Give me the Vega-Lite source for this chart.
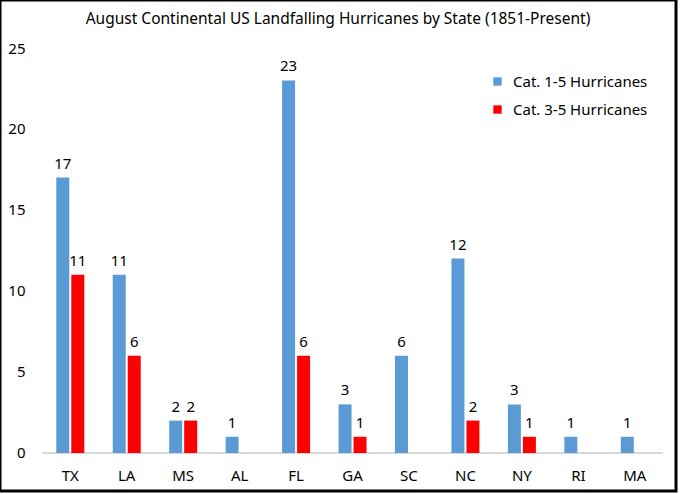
{
  "$schema": "https://vega.github.io/schema/vega-lite/v6.json",
  "width": 676,
  "height": 491,
  "autosize": {"type": "none"},
  "padding": {"left": 0, "top": 0, "right": 4, "bottom": 3},
  "background": "white",
  "title": {
    "text": "August Continental US Landfalling Hurricanes by State (1851-Present)",
    "offset": -27,
    "fontSize": 15.5,
    "font": "Noto Sans",
    "fontWeight": "normal",
    "color": "black",
    "anchor": "middle"
  },
  "config": {
    "view": {"stroke": "black", "strokeWidth": 3}
  },
  "data": {
    "values": [
      {"state": "TX", "series": "Cat. 1-5 Hurricanes", "value": 17},
      {"state": "TX", "series": "Cat. 3-5 Hurricanes", "value": 11},
      {"state": "LA", "series": "Cat. 1-5 Hurricanes", "value": 11},
      {"state": "LA", "series": "Cat. 3-5 Hurricanes", "value": 6},
      {"state": "MS", "series": "Cat. 1-5 Hurricanes", "value": 2},
      {"state": "MS", "series": "Cat. 3-5 Hurricanes", "value": 2},
      {"state": "AL", "series": "Cat. 1-5 Hurricanes", "value": 1},
      {"state": "FL", "series": "Cat. 1-5 Hurricanes", "value": 23},
      {"state": "FL", "series": "Cat. 3-5 Hurricanes", "value": 6},
      {"state": "GA", "series": "Cat. 1-5 Hurricanes", "value": 3},
      {"state": "GA", "series": "Cat. 3-5 Hurricanes", "value": 1},
      {"state": "SC", "series": "Cat. 1-5 Hurricanes", "value": 6},
      {"state": "NC", "series": "Cat. 1-5 Hurricanes", "value": 12},
      {"state": "NC", "series": "Cat. 3-5 Hurricanes", "value": 2},
      {"state": "NY", "series": "Cat. 1-5 Hurricanes", "value": 3},
      {"state": "NY", "series": "Cat. 3-5 Hurricanes", "value": 1},
      {"state": "RI", "series": "Cat. 1-5 Hurricanes", "value": 1},
      {"state": "MA", "series": "Cat. 1-5 Hurricanes", "value": 1}
    ]
  },
  "encoding": {
    "x": {
      "field": "state",
      "type": "nominal",
      "sort": null,
      "scale": {
        "domain": ["TX", "LA", "MS", "AL", "FL", "GA", "SC", "NC", "NY", "RI", "MA"],
        "paddingInner": 0,
        "paddingOuter": 0.4876,
        "align": 0.764
      },
      "axis": {
        "orient": "bottom",
        "offset": -38,
        "domain": false,
        "ticks": false,
        "tickSize": 0,
        "grid": false,
        "labelPadding": 15,
        "labelAngle": 0,
        "labelFont": "Noto Sans",
        "labelFontSize": 15,
        "labelColor": "black",
        "title": null
      }
    }
  },
  "layer": [
    {
      "mark": {"type": "rule", "color": "#D9D9D9", "strokeWidth": 1},
      "encoding": {
        "x": {"datum": "TX", "bandPosition": 0},
        "x2": {"datum": "MA", "bandPosition": 1},
        "y": {"datum": 0}
      }
    },
    {
      "mark": {"type": "bar"},
      "encoding": {
        "y": {
          "field": "value",
          "type": "quantitative",
          "scale": {"domain": [-2.346, 27.963], "nice": false, "zero": false},
          "axis": {
            "values": [0, 5, 10, 15, 20, 25],
            "domain": false,
            "ticks": false,
            "tickSize": 0,
            "grid": false,
            "offset": -42,
            "labelPadding": 17,
            "labelFont": "Noto Sans",
            "labelFontSize": 15,
            "labelColor": "black",
            "title": null
          }
        },
        "y2": {"datum": 0},
        "xOffset": {
          "field": "series",
          "scale": {"paddingInner": 0.1333, "paddingOuter": 0.948}
        },
        "color": {
          "field": "series",
          "type": "nominal",
          "scale": {"range": ["#5B9BD5", "#FF0000"]},
          "legend": {
            "orient": "none",
            "legendX": 490,
            "legendY": 74,
            "title": null,
            "symbolType": "square",
            "symbolSize": 70,
            "symbolStrokeWidth": 0,
            "labelFont": "Noto Sans",
            "labelFontSize": 15,
            "labelColor": "black",
            "labelOffset": 8,
            "rowPadding": 12
          }
        }
      }
    },
    {
      "mark": {"type": "text", "dy": -9, "baseline": "alphabetic", "font": "Noto Sans", "fontSize": 15, "color": "black"},
      "encoding": {
        "y": {"field": "value", "type": "quantitative"},
        "xOffset": {"field": "series"},
        "text": {"field": "value", "type": "quantitative"}
      }
    }
  ]
}
